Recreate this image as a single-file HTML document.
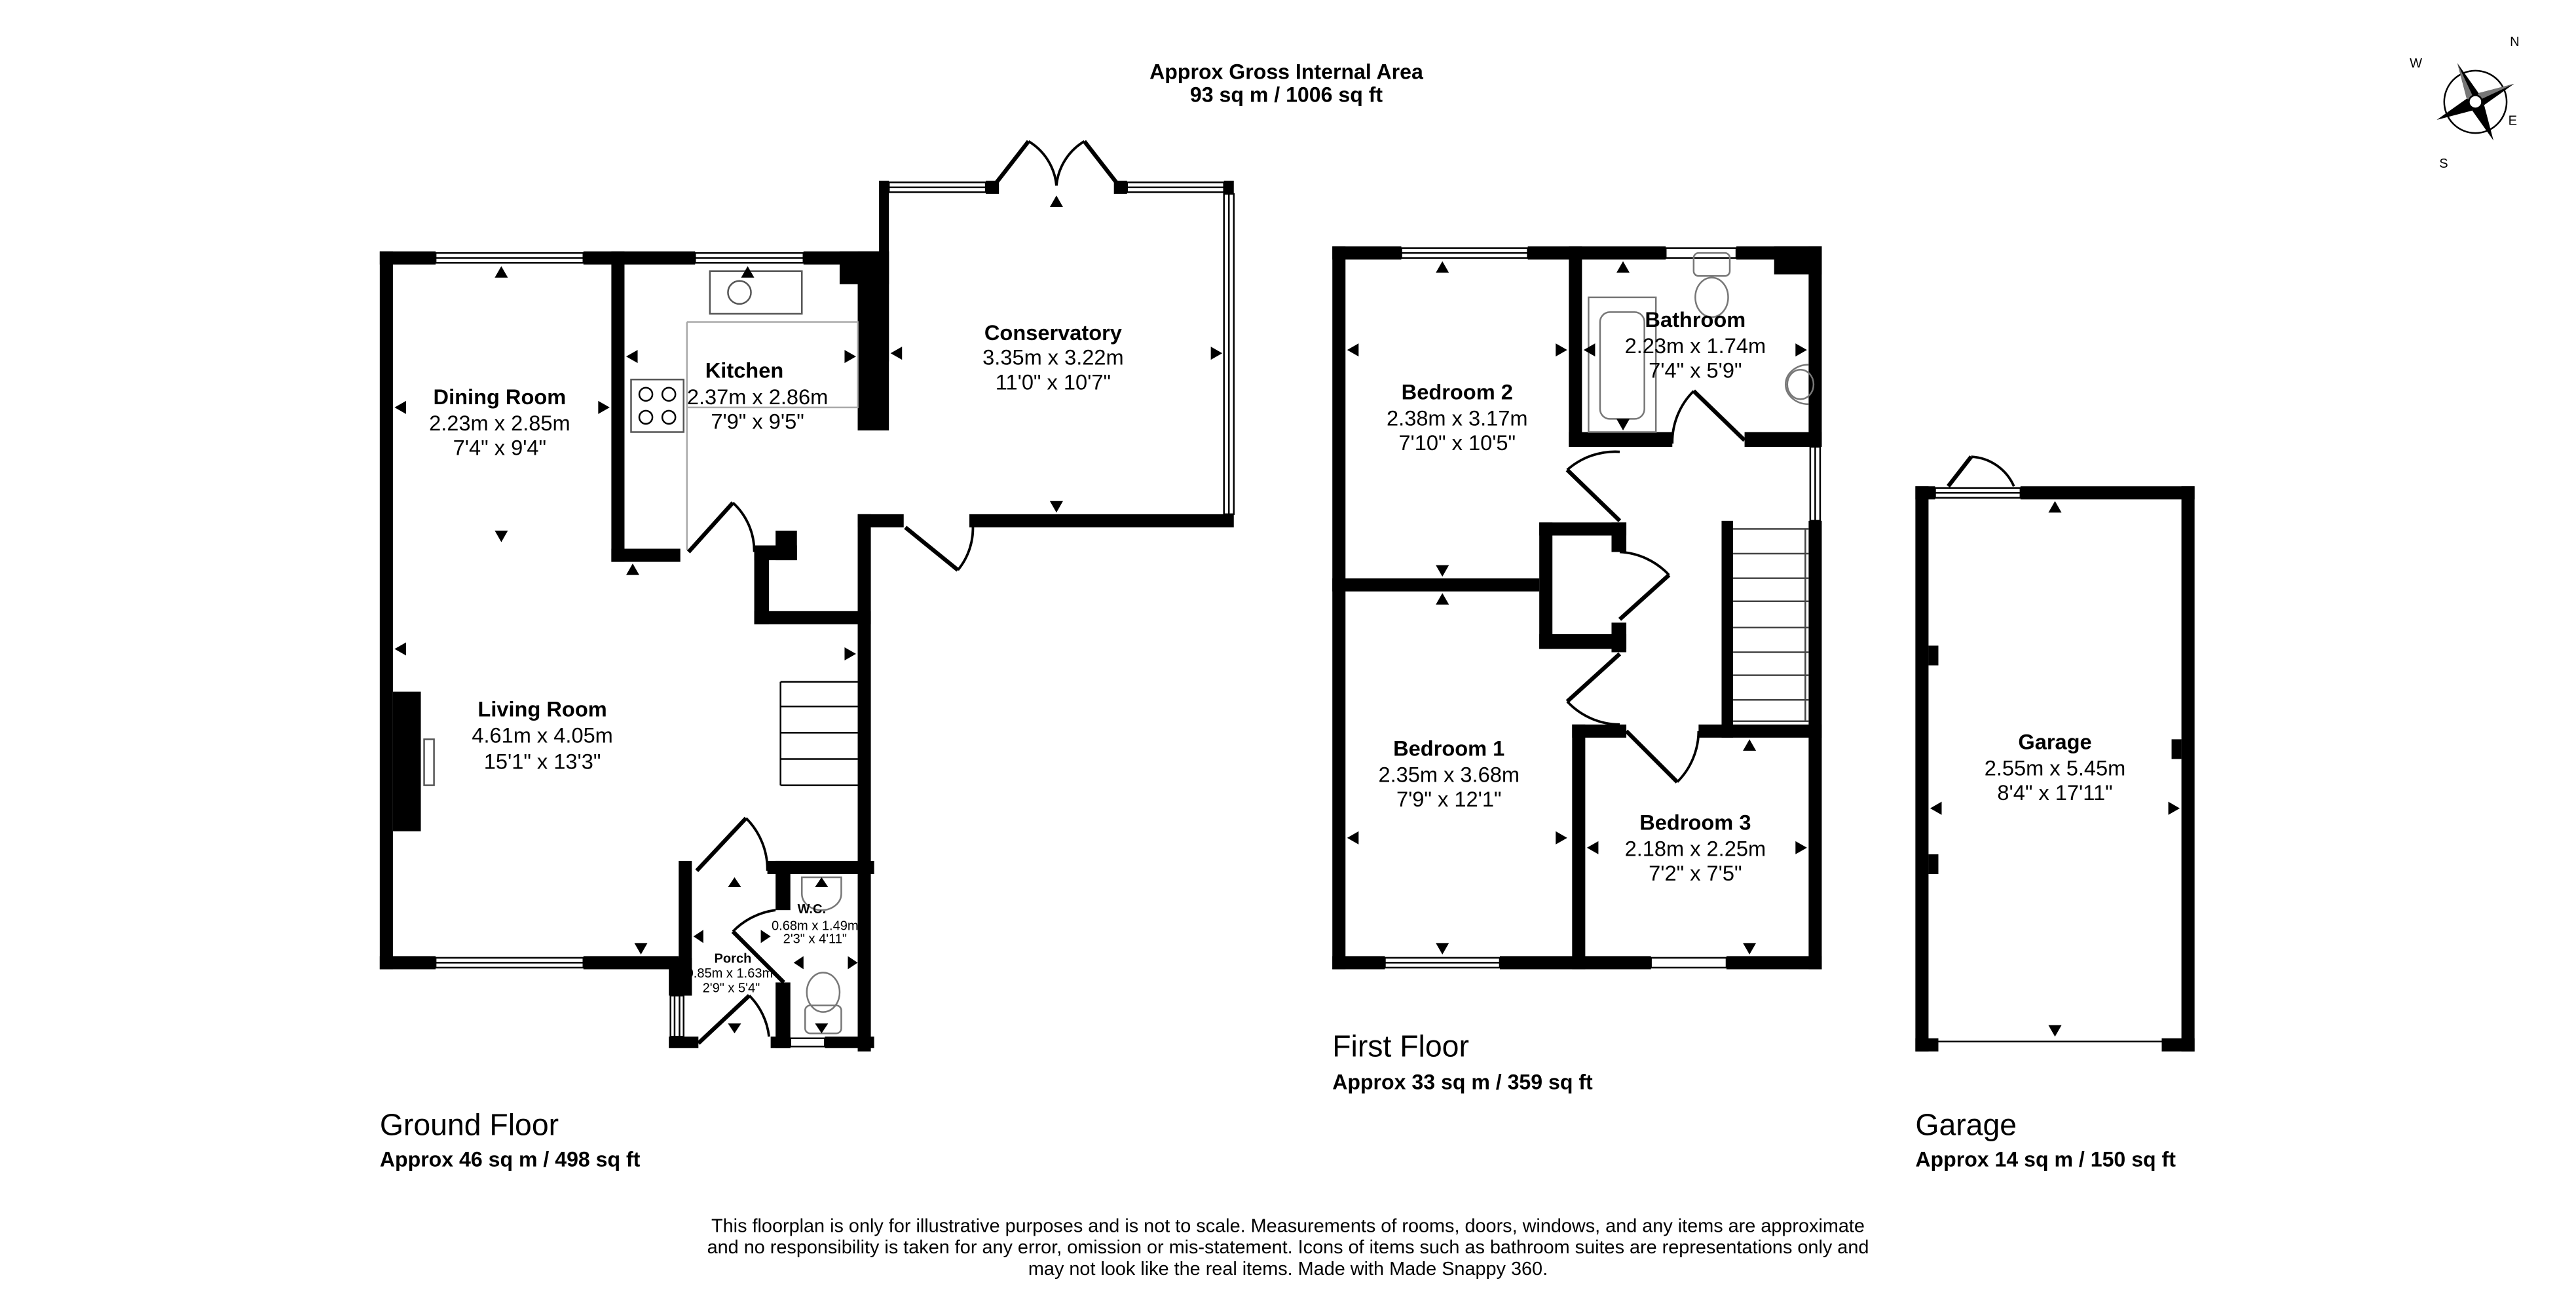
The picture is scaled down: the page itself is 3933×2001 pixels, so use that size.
<!DOCTYPE html>
<html><head><meta charset="utf-8"><style>
html,body{margin:0;padding:0;background:#fff}
svg{display:block}
text{font-family:"Liberation Sans",Arial,sans-serif;fill:#000}
.b{font-weight:bold}
</style></head><body>
<svg width="3933" height="2001" viewBox="0 0 1568 798" xmlns="http://www.w3.org/2000/svg">
<rect width="1568" height="798" fill="#fff"/>
<text x="783" y="48" font-size="12.8" class="b" text-anchor="middle">Approx Gross Internal Area</text>
<text x="783" y="62" font-size="12.8" class="b" text-anchor="middle">93 sq m / 1006 sq ft</text>
<!-- compass -->
<g transform="translate(1507,62)">
<circle r="19" fill="none" stroke="#000" stroke-width="1"/>
<g transform="rotate(-25)">
<polygon points="0,-26 4,-4 0,0 -4,-4" fill="#000"/>
<polygon points="0,26 4,4 0,0 -4,4" fill="#000"/>
<polygon points="26,0 4,4 0,0 4,-4" fill="#000"/>
<polygon points="-26,0 -4,4 0,0 -4,-4" fill="#000"/>
<polygon points="0,-26 -4,-4 0,0" fill="#777"/>
<polygon points="26,0 4,-4 0,0" fill="#777"/>
</g>
<circle r="4" fill="#fff" stroke="#000"/>
<text x="21" y="-34" font-size="8">N</text>
<text x="-40" y="-21" font-size="8">W</text>
<text x="20" y="14" font-size="8">E</text>
<text x="-22" y="40" font-size="8">S</text>
</g>

<g fill="#000">
<!-- GROUND FLOOR walls -->
<rect x="231" y="153" width="8" height="437"/>
<rect x="231" y="153" width="34" height="8"/>
<rect x="355" y="153" width="68" height="8"/>
<rect x="489" y="153" width="46" height="8"/>
<rect x="372" y="153" width="8" height="189"/>
<rect x="372" y="334" width="42" height="8"/>
<rect x="511" y="153" width="30" height="20"/>
<rect x="522" y="153" width="19" height="109"/>
<rect x="535" y="110" width="6" height="110"/>
<rect x="745" y="110" width="6" height="8"/>
<rect x="600" y="110" width="8" height="8"/>
<rect x="678" y="110" width="8" height="8"/>
<rect x="590" y="313" width="161" height="8"/>
<rect x="522" y="313" width="28" height="8"/>
<rect x="522" y="313" width="8" height="327"/>
<rect x="459" y="332" width="9" height="48"/>
<rect x="459" y="332" width="26" height="9"/>
<rect x="472" y="323" width="13" height="18"/>
<rect x="459" y="372" width="71" height="8"/>
<rect x="239" y="421" width="17" height="85"/>
<rect x="231" y="582" width="34" height="8"/>
<rect x="355" y="582" width="58" height="8"/>
<rect x="413" y="524" width="8" height="82"/>
<rect x="407" y="583" width="14" height="23"/>
<rect x="407" y="631" width="18" height="7"/>
<rect x="469" y="631" width="12" height="7"/>
<rect x="502" y="631" width="30" height="7"/>
<rect x="467" y="524" width="65" height="8"/>
<rect x="472" y="524" width="9" height="30"/>
<rect x="472" y="598" width="9" height="40"/>
<!-- FIRST FLOOR -->
<rect x="811" y="150" width="8" height="440"/>
<rect x="811" y="150" width="42" height="8"/>
<rect x="930" y="150" width="84" height="8"/>
<rect x="1057" y="150" width="52" height="8"/>
<rect x="1080" y="150" width="29" height="17"/>
<rect x="1101" y="150" width="8" height="122"/>
<rect x="1101" y="317" width="8" height="273"/>
<rect x="811" y="582" width="32" height="8"/>
<rect x="913" y="582" width="92" height="8"/>
<rect x="1051" y="582" width="58" height="8"/>
<rect x="955" y="150" width="8" height="122"/>
<rect x="955" y="263" width="63" height="9"/>
<rect x="1062" y="263" width="47" height="9"/>
<rect x="811" y="352" width="126" height="8"/>
<rect x="937" y="318" width="53" height="8"/>
<rect x="937" y="318" width="8" height="77"/>
<rect x="937" y="386" width="53" height="9"/>
<rect x="981" y="318" width="9" height="18"/>
<rect x="981" y="379" width="9" height="18"/>
<rect x="957" y="441" width="33" height="8"/>
<rect x="957" y="441" width="8" height="149"/>
<rect x="1034" y="441" width="75" height="8"/>
<rect x="1048" y="317" width="7" height="132"/>
<!-- GARAGE -->
<rect x="1166" y="296" width="8" height="344"/>
<rect x="1166" y="296" width="12" height="8"/>
<rect x="1230" y="296" width="106" height="8"/>
<rect x="1328" y="296" width="8" height="344"/>
<rect x="1166" y="632" width="14" height="8"/>
<rect x="1316" y="632" width="20" height="8"/>
<rect x="1174" y="393" width="6" height="12"/>
<rect x="1174" y="520" width="6" height="12"/>
<rect x="1322" y="450" width="6" height="12"/>
</g>

<g fill="none" stroke="#000" stroke-width="1">
<rect x="265" y="154" width="90" height="6"/><line x1="265" y1="157" x2="355" y2="157"/>
<rect x="423" y="154" width="66" height="6"/><line x1="423" y1="157" x2="489" y2="157"/>
<rect x="541" y="111" width="59" height="6"/><line x1="541" y1="114" x2="600" y2="114"/>
<rect x="686" y="111" width="59" height="6"/><line x1="686" y1="114" x2="745" y2="114"/>
<rect x="745" y="118" width="6" height="195"/><line x1="748" y1="118" x2="748" y2="313"/>
<rect x="265" y="583" width="90" height="6"/><line x1="265" y1="586" x2="355" y2="586"/>
<rect x="408" y="606" width="8" height="25"/><line x1="410.5" y1="606" x2="410.5" y2="631"/><line x1="413.5" y1="606" x2="413.5" y2="631"/>
<rect x="481" y="632" width="21" height="5"/>
<rect x="853" y="151" width="77" height="6"/><line x1="853" y1="154" x2="930" y2="154"/>
<rect x="1014" y="151" width="43" height="6"/>
<rect x="1102" y="272" width="6" height="45"/><line x1="1105" y1="272" x2="1105" y2="317"/>
<rect x="843" y="583" width="70" height="6"/><line x1="843" y1="586" x2="913" y2="586"/>
<rect x="1005" y="583" width="46" height="6"/>
<rect x="1178" y="297" width="52" height="6"/><line x1="1178" y1="300" x2="1230" y2="300"/>
<line x1="1180" y1="634" x2="1316" y2="634"/>
<!-- kitchen -->
<path d="M418 196 H522 V248 H418 M418 196 V335" stroke="#aaa"/>
<rect x="432" y="165" width="56" height="26" stroke="#555"/>
<circle cx="450" cy="178" r="7" stroke="#555"/>
<rect x="384" y="231" width="32" height="32" stroke="#555"/>
<circle cx="393" cy="240" r="4"/><circle cx="407" cy="240" r="4"/><circle cx="393" cy="254" r="4"/><circle cx="407" cy="254" r="4"/>
<!-- doors ground -->
<path d="M626 86 L605 113" stroke-width="2.5"/><path d="M626 86 A35 35 0 0 1 643 113" stroke-width="1.5"/>
<path d="M660 86 L681 113" stroke-width="2.5"/><path d="M660 86 A35 35 0 0 0 643 113" stroke-width="1.5"/>
<path d="M551 321 L583 347" stroke-width="2.5"/><path d="M583 347 A40 40 0 0 0 592 318" stroke-width="1.5"/>
<path d="M419 336 L446 306" stroke-width="2.5"/><path d="M446 306 A40 40 0 0 1 459 336" stroke-width="1.5"/>
<path d="M424 530 L454 498" stroke-width="2.5"/><path d="M454 498 A44 44 0 0 1 467 530" stroke-width="1.5"/>
<path d="M425 635 L456 606" stroke-width="2.5"/><path d="M456 606 A42 42 0 0 1 468 631" stroke-width="1.5"/>
<path d="M477 598 L446 567" stroke-width="2.5"/><path d="M446 567 A44 44 0 0 1 472 554" stroke-width="1.5"/>
<!-- doors first -->
<path d="M1062 268 L1031 238" stroke-width="2.5"/><path d="M1031 238 A44 44 0 0 0 1018 270" stroke-width="1.5"/>
<path d="M986 317 L954 286" stroke-width="2.5"/><path d="M954 286 A44 44 0 0 1 986 275" stroke-width="1.5"/>
<path d="M986 377 L1016 350" stroke-width="2.5"/><path d="M1016 350 A44 44 0 0 0 986 336" stroke-width="1.5"/>
<path d="M986 398 L954 427" stroke-width="2.5"/><path d="M954 427 A44 44 0 0 0 986 441" stroke-width="1.5"/>
<path d="M990 445 L1021 476" stroke-width="2.5"/><path d="M1021 476 A44 44 0 0 0 1034 445" stroke-width="1.5"/>
<path d="M1186 296 L1200 278" stroke-width="2.5"/><path d="M1200 278 A30 30 0 0 1 1226 296" stroke-width="1.5"/>
<!-- stairs -->
<path d="M475 415 H522 M475 415 V478 M475 430 H522 M475 446 H522 M475 462 H522 M475 478 H522"/>
<path stroke="#444" d="M1055 322 H1101 M1055 337 H1101 M1055 352 H1101 M1055 366 H1101 M1055 382 H1101 M1055 397 H1101 M1055 411 H1101 M1055 426 H1101 M1055 439 H1101 M1099 322 V439"/>
<!-- bathroom -->
<rect x="967" y="181" width="41" height="82" stroke="#777"/>
<rect x="974" y="190" width="27" height="65" rx="6" stroke="#777"/>
<rect x="1031" y="154" width="22" height="14" rx="3" stroke="#777"/>
<ellipse cx="1042" cy="181" rx="10" ry="12" stroke="#777"/>
<path d="M1101 222 A14 12 0 0 0 1101 246" stroke="#777"/>
<ellipse cx="1096" cy="234" rx="8" ry="9" stroke="#777"/>
<!-- wc -->
<path d="M488 534 h24 v10 a12 10 0 0 1 -24 0 z" stroke="#777"/>
<ellipse cx="501" cy="604" rx="10" ry="12" stroke="#777"/>
<rect x="490" y="612" width="22" height="17" rx="3" stroke="#777"/>
<rect x="258" y="450" width="6" height="28" stroke="#555"/>
</g>

<g fill="#000">
<polygon points="305,162 301,169 309,169"/>
<polygon points="240,248 247,244 247,252"/>
<polygon points="371,248 364,244 364,252"/>
<polygon points="305,330 301,323 309,323"/>
<polygon points="385,343 381,350 389,350"/>
<polygon points="240,395 247,391 247,399"/>
<polygon points="521,398 514,394 514,402"/>
<polygon points="390,581 386,574 394,574"/>
<polygon points="381,217 388,213 388,221"/>
<polygon points="521,217 514,213 514,221"/>
<polygon points="455,162 451,169 459,169"/>
<polygon points="542,215 549,211 549,219"/>
<polygon points="744,215 737,211 737,219"/>
<polygon points="643,119 639,126 647,126"/>
<polygon points="643,312 639,305 647,305"/>
<polygon points="447,534 443,540 451,540"/>
<polygon points="422,570 428,566 428,574"/>
<polygon points="469,570 463,566 463,574"/>
<polygon points="447,629 443,623 451,623"/>
<polygon points="500,534 496,540 504,540"/>
<polygon points="483,586 489,582 489,590"/>
<polygon points="522,586 516,582 516,590"/>
<polygon points="500,629 496,623 504,623"/>
<polygon points="878,159 874,166 882,166"/>
<polygon points="820,213 827,209 827,217"/>
<polygon points="954,213 947,209 947,217"/>
<polygon points="878,351 874,344 882,344"/>
<polygon points="878,361 874,368 882,368"/>
<polygon points="820,510 827,506 827,514"/>
<polygon points="954,510 947,506 947,514"/>
<polygon points="878,581 874,574 882,574"/>
<polygon points="988,159 984,166 992,166"/>
<polygon points="964,213 971,209 971,217"/>
<polygon points="1100,213 1093,209 1093,217"/>
<polygon points="988,262 984,255 992,255"/>
<polygon points="1065,450 1061,457 1069,457"/>
<polygon points="966,516 973,512 973,520"/>
<polygon points="1100,516 1093,512 1093,520"/>
<polygon points="1065,581 1061,574 1069,574"/>
<polygon points="1251,305 1247,312 1255,312"/>
<polygon points="1175,492 1182,488 1182,496"/>
<polygon points="1327,492 1320,488 1320,496"/>
<polygon points="1251,631 1247,624 1255,624"/>
</g>

<g font-size="13" text-anchor="middle">
<text x="304" y="246" class="b">Dining Room</text>
<text x="304" y="262">2.23m x 2.85m</text>
<text x="304" y="277">7'4" x 9'4"</text>
<text x="453" y="230" class="b">Kitchen</text>
<text x="461" y="246">2.37m x 2.86m</text>
<text x="461" y="261">7'9" x 9'5"</text>
<text x="641" y="207" class="b">Conservatory</text>
<text x="641" y="222">3.35m x 3.22m</text>
<text x="641" y="237">11'0" x 10'7"</text>
<text x="330" y="436" class="b">Living Room</text>
<text x="330" y="452">4.61m x 4.05m</text>
<text x="330" y="468">15'1" x 13'3"</text>
<text x="887" y="243" class="b">Bedroom 2</text>
<text x="887" y="259">2.38m x 3.17m</text>
<text x="887" y="274">7'10" x 10'5"</text>
<text x="1032" y="199" class="b">Bathroom</text>
<text x="1032" y="215">2.23m x 1.74m</text>
<text x="1032" y="230">7'4" x 5'9"</text>
<text x="882" y="460" class="b">Bedroom 1</text>
<text x="882" y="476">2.35m x 3.68m</text>
<text x="882" y="491">7'9" x 12'1"</text>
<text x="1032" y="505" class="b">Bedroom 3</text>
<text x="1032" y="521">2.18m x 2.25m</text>
<text x="1032" y="536">7'2" x 7'5"</text>
<text x="1251" y="456" class="b">Garage</text>
<text x="1251" y="472">2.55m x 5.45m</text>
<text x="1251" y="487">8'4" x 17'11"</text>
</g>
<g font-size="8" text-anchor="middle">
<text x="446" y="586" class="b">Porch</text>
<text x="444" y="595">0.85m x 1.63m</text>
<text x="445" y="604">2'9" x 5'4"</text>
<text x="494" y="556" class="b">W.C.</text>
<text x="496" y="566">0.68m x 1.49m</text>
<text x="496" y="574">2'3" x 4'11"</text>
</g>

<text x="231" y="691" font-size="18.5">Ground Floor</text>
<text x="231" y="710" font-size="12.8" class="b">Approx 46 sq m / 498 sq ft</text>
<text x="811" y="643" font-size="18.5">First Floor</text>
<text x="811" y="663" font-size="12.8" class="b">Approx 33 sq m / 359 sq ft</text>
<text x="1166" y="691" font-size="18.5">Garage</text>
<text x="1166" y="710" font-size="12.8" class="b">Approx 14 sq m / 150 sq ft</text>

<g font-size="11.5" text-anchor="middle">
<text x="784" y="750">This floorplan is only for illustrative purposes and is not to scale. Measurements of rooms, doors, windows, and any items are approximate</text>
<text x="784" y="763">and no responsibility is taken for any error, omission or mis-statement. Icons of items such as bathroom suites are representations only and</text>
<text x="784" y="776">may not look like the real items. Made with Made Snappy 360.</text>
</g>
</svg>
</body></html>
